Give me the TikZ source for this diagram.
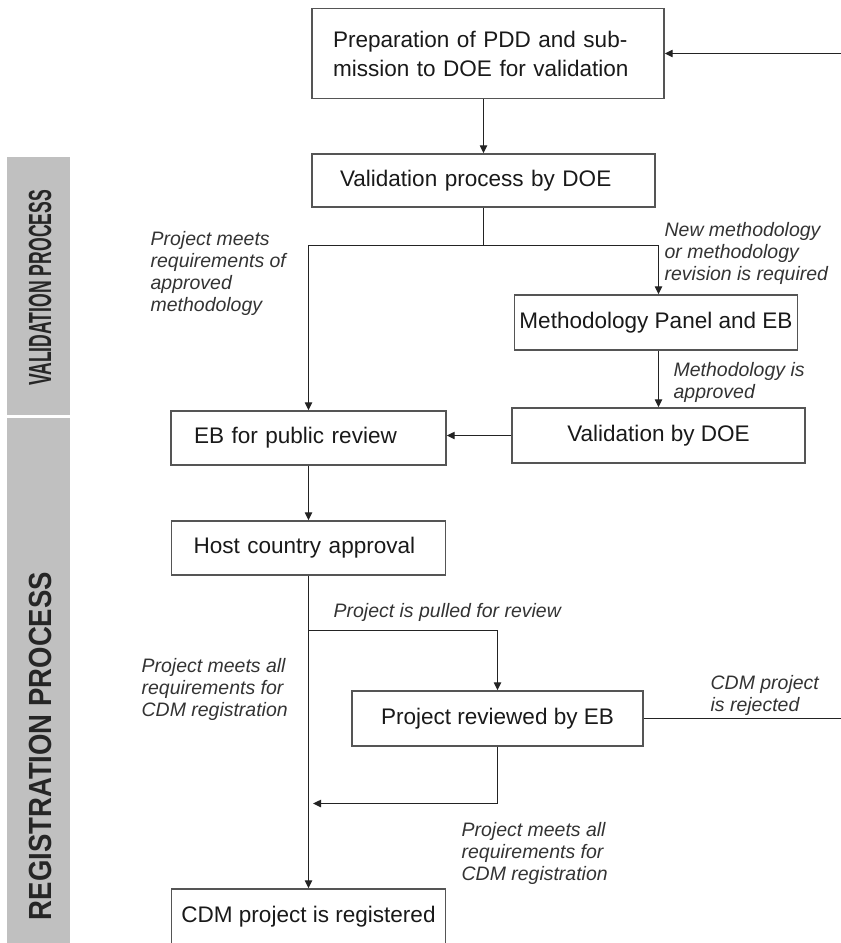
\documentclass[tikz,border=0pt]{standalone}
\usepackage{fontspec}
\setmainfont{Liberation Sans}
\usepackage{pgf}
\usepackage{tikz}
\usetikzlibrary{arrows.meta}

\definecolor{bandgray}{RGB}{192,192,192}
\definecolor{boxline}{RGB}{85,85,85}
\definecolor{flowline}{RGB}{35,35,35}
\newcommand{\pu}{0.75pt}

\begin{document}
\begin{tikzpicture}[->,>={Triangle[length=6pt,width=5.5pt]},x=0.75pt,y=-0.75pt,
  line width=1pt,color=flowline]
  \tikzstyle{box}=[draw=boxline,line width=1.1pt,inner ysep=0pt,inner xsep=2pt,
    text=black!90,font=\fontsize{16.9}{21.75}\selectfont]
  \tikzstyle{note}=[anchor=north west,inner sep=0pt,align=left,text=black!80,
    font=\fontsize{14.6}{16.5}\selectfont\itshape]
  \tikzstyle{band}=[fill=bandgray,draw=none]
  \tikzstyle{bandtext}=[rotate=90,inner sep=0pt,text=black!85,
    font=\fontsize{24}{24}\selectfont\bfseries]

  \useasboundingbox (0,0) rectangle (840,943);

  \fill[band,-] (7,157) rectangle (70,415);
  \fill[band,-] (7,418) rectangle (70,950);
  \node[bandtext] (valtitle) at (40,288) {\scalebox{0.55}[1]{VALIDATION PROCESS}};
  \node[bandtext] (regtitle) at (40,746) {\scalebox{0.86}[1]{REGISTRATION PROCESS}};

  \node[box,minimum width=352*\pu,minimum height=90*\pu,text width=310*\pu,
    align=left,inner xsep=21*\pu] (prep) at (488,53.5)
    {Preparation of PDD and sub-\\mission to DOE for validation};
  \node[box,minimum width=343*\pu,minimum height=53*\pu,text width=287*\pu,
    align=left,inner xsep=28*\pu] (valproc) at (483.5,180.5) {Validation process by DOE};
  \node[box,minimum width=283*\pu,minimum height=55*\pu] (methpanel) at (656,322.5)
    {Methodology Panel and EB};
  \node[box,minimum width=293*\pu,minimum height=55*\pu] (valdoe) at (658.5,435.5)
    {Validation by DOE};
  \node[box,minimum width=275*\pu,minimum height=54*\pu,text width=229*\pu,
    align=left,inner xsep=23*\pu] (ebreview) at (308.5,438) {EB for public review};
  \node[box,minimum width=274*\pu,minimum height=54*\pu,text width=230*\pu,
    align=left,inner xsep=22*\pu] (host) at (308.5,548) {Host country approval};
  \node[box,minimum width=291*\pu,minimum height=55*\pu] (reviewed) at (497.5,718.5)
    {Project reviewed by EB};
  \node[box,minimum width=274*\pu,minimum height=55*\pu] (registered) at (308.5,916.5)
    {CDM project is registered};

  \coordinate (vsplit) at (483.5,245.5);
  \coordinate (hsplit) at (308.5,630.5);
  \coordinate (rjoin) at (313,803.5);
  \coordinate (rimside) at (845,400);

  \path
  (prep.south -| valproc.north) edge (valproc.north)
  (valdoe.north |- methpanel.south) edge (valdoe.north)
  (valdoe.west) edge (valdoe.west -| ebreview.east)
  (ebreview) edge (host)
  (host) edge (registered)
  ;
  \draw[-] (valproc.south) -- (vsplit);
  \draw (vsplit) -| (ebreview.north);
  \draw (vsplit) -| (valdoe.north |- methpanel.north);
  \draw (hsplit) -| (reviewed.north);
  \draw (reviewed.south) |- (rjoin);
  \draw (reviewed.east) -| (rimside) |- (prep.east);

  \node[note] (lblapproved) at (150,231)
    {Project meets\\requirements of\\approved\\methodology};
  \node[note] (lblnewmeth) at (664,222)
    {New methodology\\or methodology\\revision is required};
  \node[note] (lblmethok) at (673,362) {Methodology is\\approved};
  \node[note] (lblpulled) at (333,603) {Project is pulled for review};
  \node[note] (lblmeetsL) at (141,658)
    {Project meets all\\requirements for\\CDM registration};
  \node[note] (lblmeetsR) at (461,822)
    {Project meets all\\requirements for\\CDM registration};
  \node[note] (lblrejected) at (710,675) {CDM project\\is rejected};
\end{tikzpicture}
\end{document}
